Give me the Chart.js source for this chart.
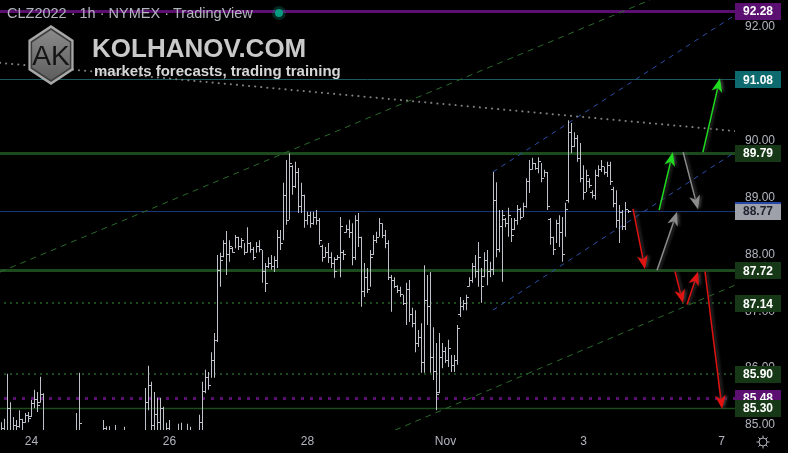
<!DOCTYPE html>
<html>
<head>
<meta charset="utf-8">
<script src="https://cdn.jsdelivr.net/npm/chart.js@4.4.1/dist/chart.umd.min.js"></script>
<style>
  html, body { margin: 0; background: #000; overflow: hidden; }
  #wrap { width: 788px; height: 453px; }
</style>
</head>
<body>
<div id="wrap"><canvas id="chart" width="788" height="453"></canvas></div>
<script>
// CLZ2022 1h bars, index 0 = start of Oct 24
const firstBar = -10;
const opens = [
  84.85,84.95,84.80,85.30,84.90,85.00,84.98,85.10,85.05,85.18,
  85.15,85.38,85.45,85.40,85.55,84.80,84.65,84.60,84.70,84.66,
  84.55,84.62,84.70,84.60,84.72,84.80,84.90,84.80,84.62,84.70,
  84.58,84.66,84.74,84.68,84.78,84.95,84.85,84.80,84.70,84.80,
  84.66,84.74,84.80,84.62,84.70,84.60,84.68,84.72,84.80,85.40,
  85.70,85.00,85.20,85.05,85.30,84.90,84.95,84.85,84.70,84.75,
  84.90,84.80,84.70,84.92,84.80,84.68,84.75,85.05,85.60,85.85,
  85.70,86.15,86.50,87.73,87.98,88.20,88.00,88.12,88.05,88.30,
  88.15,88.25,88.05,88.20,88.10,87.95,88.15,88.10,87.70,87.80,
  87.85,87.80,87.90,88.30,88.20,89.05,88.60,89.55,89.20,89.45,
  88.85,89.05,88.60,88.70,88.55,88.65,88.60,88.15,87.95,88.05,
  87.95,87.85,87.92,87.95,88.05,88.40,88.45,88.40,87.95,88.60,
  88.30,87.35,87.60,87.40,88.00,88.25,88.30,88.55,88.35,88.20,
  87.60,87.55,87.45,87.38,87.30,87.15,87.40,86.95,86.80,86.45,
  86.55,86.10,87.20,87.10,86.20,85.95,85.58,86.20,86.30,86.15,
  86.35,86.05,86.15,86.95,87.10,87.15,87.45,87.55,87.80,87.70,
  87.95,87.62,87.90,87.70,87.75,88.95,88.10,88.50,88.62,88.55,
  88.70,88.45,88.60,88.80,88.65,88.85,89.30,89.50,89.60,89.52,
  89.65,89.35,89.45,88.62,88.30,88.10,88.55,88.40,88.00,88.95,
  90.15,89.90,90.05,89.70,89.35,89.10,89.30,89.10,89.05,89.40,
  89.50,89.55,89.45,89.58,89.15,88.90,88.60,88.75,88.50,88.80
];
const highs = [
  85.05,85.11,85.90,85.40,85.14,85.09,85.26,85.11,85.21,85.23,
  85.44,85.62,85.58,85.85,85.56,84.83,84.80,84.78,84.82,84.79,
  84.75,84.80,84.84,84.80,84.86,85.21,85.92,84.85,84.80,84.82,
  84.78,84.80,84.84,84.86,85.09,84.98,84.98,84.86,85.00,84.84,
  84.82,84.97,84.84,84.80,84.82,84.78,84.80,84.85,85.65,86.04,
  85.76,85.58,85.48,85.48,85.32,85.04,85.09,84.88,84.83,85.02,
  85.04,84.84,85.02,84.97,84.81,84.81,85.18,85.76,85.97,85.93,
  86.28,86.62,87.99,88.03,88.25,88.41,88.25,88.13,88.34,88.31,
  88.29,88.20,88.48,88.22,88.13,88.22,88.25,88.08,87.85,87.95,
  87.99,87.97,88.43,88.43,89.26,89.66,89.78,89.57,89.63,89.52,
  89.26,89.05,88.75,88.75,88.75,88.78,88.64,88.17,88.13,88.20,
  88.04,87.95,87.99,88.66,88.08,88.52,88.61,88.55,88.69,88.73,
  88.31,87.85,87.76,88.08,88.34,88.40,88.64,88.55,88.43,88.25,
  87.64,87.60,87.46,87.43,87.29,87.50,87.55,87.06,87.02,86.67,
  86.79,87.81,87.64,87.69,86.72,86.44,86.62,86.44,86.37,86.50,
  86.23,86.23,86.76,87.25,87.20,87.29,87.60,87.85,87.99,88.22,
  87.76,88.04,88.08,87.87,89.45,89.27,88.78,88.78,88.64,88.82,
  88.64,88.64,88.87,88.82,88.91,89.34,89.66,89.70,89.61,89.71,
  89.61,89.49,89.45,88.64,88.31,88.61,88.69,88.66,88.91,90.36,
  90.31,90.15,90.10,89.96,89.57,89.49,89.34,89.13,89.49,89.57,
  89.66,89.54,89.63,89.63,89.19,89.13,88.87,88.78,88.92,88.78
];
const lows = [
  84.74,84.74,84.74,84.74,84.74,84.74,84.95,84.83,85.04,85.05,
  85.14,85.30,85.23,85.39,84.74,84.56,84.47,84.50,84.52,84.48,
  84.45,84.50,84.55,84.50,84.58,84.74,84.74,84.55,84.50,84.52,
  84.48,84.50,84.56,84.58,84.74,84.74,84.74,84.56,84.74,84.55,
  84.52,84.74,84.54,84.50,84.52,84.48,84.50,84.55,84.74,85.26,
  84.74,84.74,84.91,84.74,84.74,84.74,84.74,84.56,84.56,84.74,
  84.74,84.56,84.74,84.74,84.56,84.56,84.74,84.74,85.56,85.62,
  85.83,85.83,86.46,87.43,87.95,87.64,87.87,88.03,88.11,88.08,
  88.11,87.99,88.03,88.03,87.90,88.03,88.04,87.50,87.34,87.76,
  87.73,87.69,87.76,88.08,88.25,88.52,88.61,89.05,89.17,88.73,
  88.73,88.47,88.52,88.47,88.52,88.52,88.17,87.87,87.95,87.85,
  87.76,87.59,87.90,87.60,87.90,88.38,88.29,87.81,87.90,88.13,
  87.08,87.25,87.32,87.43,87.99,88.20,88.31,88.29,88.11,87.55,
  86.99,87.41,87.32,87.25,87.11,86.76,86.81,86.72,86.28,86.37,
  85.92,85.92,86.76,85.92,85.79,85.26,85.56,86.00,86.09,86.02,
  85.93,85.93,86.06,86.90,87.02,87.02,87.43,87.50,87.59,87.43,
  87.15,87.60,87.46,87.60,87.64,87.95,88.04,87.52,88.48,88.31,
  88.22,88.43,88.52,88.61,88.66,88.82,89.08,89.49,89.49,89.43,
  89.27,89.36,88.78,88.17,87.99,88.20,88.13,87.87,88.31,88.91,
  89.78,89.89,89.63,89.27,88.96,89.10,89.17,88.99,88.96,89.36,
  89.45,89.40,89.36,89.22,88.83,88.47,88.20,88.43,88.43,88.73
];
const closes = [
  84.95,84.80,85.30,84.90,85.00,84.85,85.10,84.90,85.18,85.12,
  85.38,85.45,85.35,85.55,84.80,84.65,84.60,84.70,84.66,84.55,
  84.62,84.70,84.60,84.72,84.80,84.90,85.04,84.62,84.70,84.58,
  84.66,84.74,84.68,84.78,84.95,84.85,84.92,84.70,84.90,84.66,
  84.74,84.85,84.62,84.70,84.60,84.68,84.72,84.80,85.40,85.70,
  85.00,85.20,85.05,85.30,84.90,84.95,84.85,84.70,84.75,84.90,
  84.80,84.70,84.92,84.80,84.68,84.75,85.05,85.60,85.85,85.70,
  86.15,86.50,87.73,87.90,88.20,88.00,88.15,88.05,88.30,88.15,
  88.25,88.05,88.20,88.10,87.95,88.15,88.10,87.70,87.50,87.85,
  87.80,87.90,88.30,88.20,89.05,88.60,89.60,89.20,89.45,88.85,
  89.05,88.60,88.70,88.55,88.65,88.60,88.25,87.95,88.05,87.95,
  87.85,87.70,87.95,88.50,88.00,88.45,88.40,87.95,88.60,88.30,
  87.35,87.60,87.40,87.95,88.25,88.30,88.55,88.35,88.20,87.60,
  87.55,87.45,87.38,87.30,87.15,87.40,86.95,86.80,86.45,86.55,
  86.10,87.20,87.10,86.20,85.95,85.55,86.20,86.30,86.15,86.35,
  86.05,86.15,86.70,87.10,87.15,87.25,87.55,87.80,87.70,87.95,
  87.45,87.90,87.70,87.75,88.95,88.10,88.50,88.70,88.55,88.70,
  88.35,88.60,88.80,88.65,88.85,89.30,89.50,89.60,89.52,89.65,
  89.35,89.45,88.85,88.30,88.10,88.55,88.40,88.00,88.80,90.15,
  89.90,90.05,89.70,89.35,89.10,89.40,89.22,89.05,89.40,89.50,
  89.55,89.45,89.58,89.30,88.90,88.60,88.75,88.50,88.80,88.77
];

const dayTicks = [0, 46, 92, 138, 184, 230];
const dayLabels = ['24', '26', '28', 'Nov', '3', '7'];
const priceTicks = [85, 86, 87, 88, 89, 90, 91, 92];

// horizontal levels
const levelPrices = [92.28, 91.08, 89.79, 88.77, 87.72, 87.14, 85.90, 85.48, 85.30];

// drawings: [barIndex1, price1, barIndex2, price2]
const dottedTrend = [[-10.5, 91.37, 234.5, 90.17]];
const greenChannel = [[-10.5, 87.69, 206.2, 92.475], [121.2, 84.91, 234.5, 87.46]];
const blueChannel = [[153.8, 89.45, 234.5, 92.21], [153.8, 87.02, 234.5, 89.80]];
const redArrows = [[200.5, 88.80, 204.5, 87.74], [214.5, 87.70, 217.2, 87.14], [218.5, 87.12, 222.2, 87.70], [224.5, 87.70, 230.2, 85.28]];
const greenArrows = [[209.2, 88.78, 213.8, 89.80], [223.8, 89.80, 229.5, 91.10]];
const greyArrows = [[208.5, 87.72, 215.2, 88.75], [217.2, 89.80, 222.2, 88.79]];

// ---- styles ----
const GREEN = '#1d4a1d', PURPLE = '#5b0f70', TEXT = '#b2b5be', BAR = '#bfc2ca';
const FONT = '"Liberation Sans", Arial, sans-serif';
const levelLine = [
  { c: PURPLE, w: 3 }, { c: '#1b5b5e', w: 1 }, { c: GREEN, w: 3 }, { c: '#1c3578', w: 1 },
  { c: GREEN, w: 3 }, { c: GREEN, w: 2, dash: [2, 4] }, { c: GREEN, w: 2, dash: [2, 4] },
  { c: PURPLE, w: 3, dash: [3, 6] }, { c: GREEN, w: 1.5 }
];
const levelBox = [
  { bg: PURPLE, fg: '#fff' }, { bg: '#0d6a6e', fg: '#fff' }, { bg: '#173817', fg: '#fff' },
  { bg: '#9ea1aa', fg: '#1e222d', top: '#2447a8' }, { bg: '#173817', fg: '#fff' },
  { bg: '#173817', fg: '#fff' }, { bg: '#173817', fg: '#fff' }, { bg: PURPLE, fg: '#fff' },
  { bg: '#173817', fg: '#fff' }
];

const bars = highs.map((h, k) => ({ x: firstBar + k, y: [lows[k], h] }));

function seg(ctx, xs, ys, l) {
  ctx.beginPath();
  ctx.moveTo(xs.getPixelForValue(l[0]), ys.getPixelForValue(l[1]));
  ctx.lineTo(xs.getPixelForValue(l[2]), ys.getPixelForValue(l[3]));
  ctx.stroke();
}

function arrow(ctx, xs, ys, l, color) {
  const x1 = xs.getPixelForValue(l[0]), y1 = ys.getPixelForValue(l[1]);
  const x2 = xs.getPixelForValue(l[2]), y2 = ys.getPixelForValue(l[3]);
  const a = Math.atan2(y2 - y1, x2 - x1);
  const L = 14, W = 5.5;
  const bx = x2 - Math.cos(a) * L, by = y2 - Math.sin(a) * L;
  ctx.strokeStyle = color;
  ctx.fillStyle = color;
  ctx.lineWidth = 1.5;
  ctx.beginPath();
  ctx.moveTo(x1, y1);
  ctx.lineTo(bx + Math.cos(a) * 4, by + Math.sin(a) * 4);
  ctx.stroke();
  ctx.beginPath();
  ctx.moveTo(x2, y2);
  ctx.lineTo(bx - Math.sin(a) * W, by + Math.cos(a) * W);
  ctx.lineTo(bx + Math.cos(a) * 4, by + Math.sin(a) * 4);
  ctx.lineTo(bx + Math.sin(a) * W, by - Math.cos(a) * W);
  ctx.closePath();
  ctx.fill();
}

const overlay = {
  id: 'overlay',
  beforeDatasetsDraw(chart) {
    const { ctx, chartArea: a, scales: { x, y } } = chart;
    ctx.save();
    ctx.beginPath();
    ctx.rect(a.left, a.top, a.right - a.left, a.bottom - a.top);
    ctx.clip();
    // levels
    levelPrices.forEach((p, i) => {
      const st = levelLine[i];
      const py = Math.round(y.getPixelForValue(p)) + (st.w % 2 ? 0.5 : 0);
      ctx.strokeStyle = st.c;
      ctx.lineWidth = st.w;
      ctx.setLineDash(st.dash || []);
      ctx.beginPath();
      ctx.moveTo(a.left + (st.dash ? 4 : 0), py);
      ctx.lineTo(a.right, py);
      ctx.stroke();
    });
    // grey dotted trend
    ctx.strokeStyle = '#808080';
    ctx.lineWidth = 2;
    ctx.lineCap = 'round';
    ctx.setLineDash([0.1, 6]);
    dottedTrend.forEach(l => seg(ctx, x, y, l));
    ctx.lineCap = 'butt';
    ctx.lineWidth = 1;
    ctx.setLineDash([6, 5]);
    ctx.strokeStyle = '#2a6a2a';
    greenChannel.forEach(l => seg(ctx, x, y, l));
    ctx.strokeStyle = '#2b4ea8';
    ctx.setLineDash([5, 5]);
    blueChannel.forEach(l => seg(ctx, x, y, l));
    ctx.restore();
  },
  afterDatasetsDraw(chart) {
    const { ctx, chartArea: a, scales: { x, y } } = chart;
    ctx.save();
    ctx.beginPath();
    ctx.rect(a.left, a.top, a.right - a.left, a.bottom - a.top);
    ctx.clip();
    // open / close ticks
    ctx.fillStyle = BAR;
    highs.forEach((h, k) => {
      const px = x.getPixelForValue(firstBar + k);
      ctx.fillRect(px - 2.5, Math.round(y.getPixelForValue(opens[k])), 2, 1);
      ctx.fillRect(px + 0.5, Math.round(y.getPixelForValue(closes[k])), 2, 1);
    });
    ctx.shadowColor = 'rgba(70,70,70,0.9)';
    ctx.shadowBlur = 3;
    ctx.shadowOffsetX = 2;
    redArrows.forEach(l => arrow(ctx, x, y, l, '#e01212'));
    greenArrows.forEach(l => arrow(ctx, x, y, l, '#1fdc1f'));
    greyArrows.forEach(l => arrow(ctx, x, y, l, '#8c8c8c'));
    ctx.restore();
  },
  afterDraw(chart) {
    const { ctx, chartArea: a, scales: { x, y } } = chart;
    ctx.save();
    // axis labels
    ctx.fillStyle = TEXT;
    ctx.font = '12px ' + FONT;
    ctx.textBaseline = 'middle';
    ctx.textAlign = 'left';
    priceTicks.forEach(v => ctx.fillText(v.toFixed(2), a.right + 10, y.getPixelForValue(v)));
    ctx.textAlign = 'center';
    dayTicks.forEach((v, i) => ctx.fillText(dayLabels[i], x.getPixelForValue(v), a.bottom + 12));

    // price boxes on the axis
    levelPrices.forEach((p, i) => {
      const st = levelBox[i];
      const cy = y.getPixelForValue(p);
      ctx.fillStyle = st.bg;
      ctx.fillRect(a.right, Math.round(cy - 8), 46, 17);
      if (st.top) {
        ctx.fillStyle = st.top;
        ctx.fillRect(a.right, Math.round(cy - 9), 46, 2);
      }
      ctx.fillStyle = st.fg;
      ctx.font = 'bold 12px ' + FONT;
      ctx.textAlign = 'center';
      ctx.textBaseline = 'middle';
      ctx.fillText(p.toFixed(2), a.right + 23, cy + 1);
    });

    // header
    ctx.textAlign = 'left';
    ctx.textBaseline = 'middle';
    ctx.fillStyle = TEXT;
    ctx.font = '14.5px ' + FONT;
    ctx.fillText('CLZ2022 · 1h · NYMEX · TradingView', 7, 14);
    ctx.fillStyle = 'rgba(8,153,129,0.25)';
    ctx.beginPath(); ctx.arc(279, 13, 7, 0, Math.PI * 2); ctx.fill();
    ctx.fillStyle = '#089981';
    ctx.beginPath(); ctx.arc(279, 13, 4, 0, Math.PI * 2); ctx.fill();

    // logo
    const cx = 51, cyL = 55;
    const hex = r => {
      ctx.beginPath();
      for (let j = 0; j < 6; j++) {
        const ang = -Math.PI / 2 + j * Math.PI / 3;
        const px = cx + Math.cos(ang) * r * 0.87, py = cyL + Math.sin(ang) * r;
        j ? ctx.lineTo(px, py) : ctx.moveTo(px, py);
      }
      ctx.closePath();
    };
    hex(30); ctx.fillStyle = '#a8a8a8'; ctx.fill();
    hex(27); ctx.fillStyle = '#3c3c3c'; ctx.fill();
    hex(25);
    const g = ctx.createLinearGradient(0, 30, 0, 80);
    g.addColorStop(0, '#8a8a8a'); g.addColorStop(1, '#5e5e5e');
    ctx.fillStyle = g; ctx.fill();
    ctx.fillStyle = '#151515';
    ctx.font = '28px ' + FONT;
    ctx.textAlign = 'center';
    ctx.fillText('AK', cx, cyL + 2);

    ctx.textAlign = 'left';
    ctx.textBaseline = 'alphabetic';
    ctx.fillStyle = '#c9c9c9';
    ctx.font = 'bold 26px ' + FONT;
    ctx.fillText('KOLHANOV.COM', 92, 57);
    ctx.fillStyle = '#d6d6d6';
    ctx.font = 'bold 15px ' + FONT;
    ctx.fillText('markets forecasts, trading training', 94, 76);

    // settings gear
    ctx.strokeStyle = TEXT;
    ctx.lineWidth = 1;
    ctx.beginPath(); ctx.arc(763, 442, 4, 0, Math.PI * 2); ctx.stroke();
    for (let j = 0; j < 8; j++) {
      const ang = j * Math.PI / 4;
      ctx.beginPath();
      ctx.moveTo(763 + Math.cos(ang) * 4, 442 + Math.sin(ang) * 4);
      ctx.lineTo(763 + Math.cos(ang) * 6.5, 442 + Math.sin(ang) * 6.5);
      ctx.stroke();
    }
    ctx.restore();
  }
};

new Chart(document.getElementById('chart'), {
  type: 'bar',
  data: {
    datasets: [{
      data: bars,
      backgroundColor: BAR,
      barThickness: 1,
      borderWidth: 0,
      inflateAmount: 0
    }]
  },
  options: {
    responsive: false,
    devicePixelRatio: 1,
    animation: false,
    layout: { padding: { left: 0, top: 0, right: 53, bottom: 23 } },
    plugins: { legend: { display: false }, tooltip: { enabled: false } },
    scales: {
      x: { type: 'linear', display: false, offset: false, min: -10.5, max: 234.5 },
      y: { display: false, min: 84.912, max: 92.475 }
    }
  },
  plugins: [overlay]
});
</script>
</body>
</html>
